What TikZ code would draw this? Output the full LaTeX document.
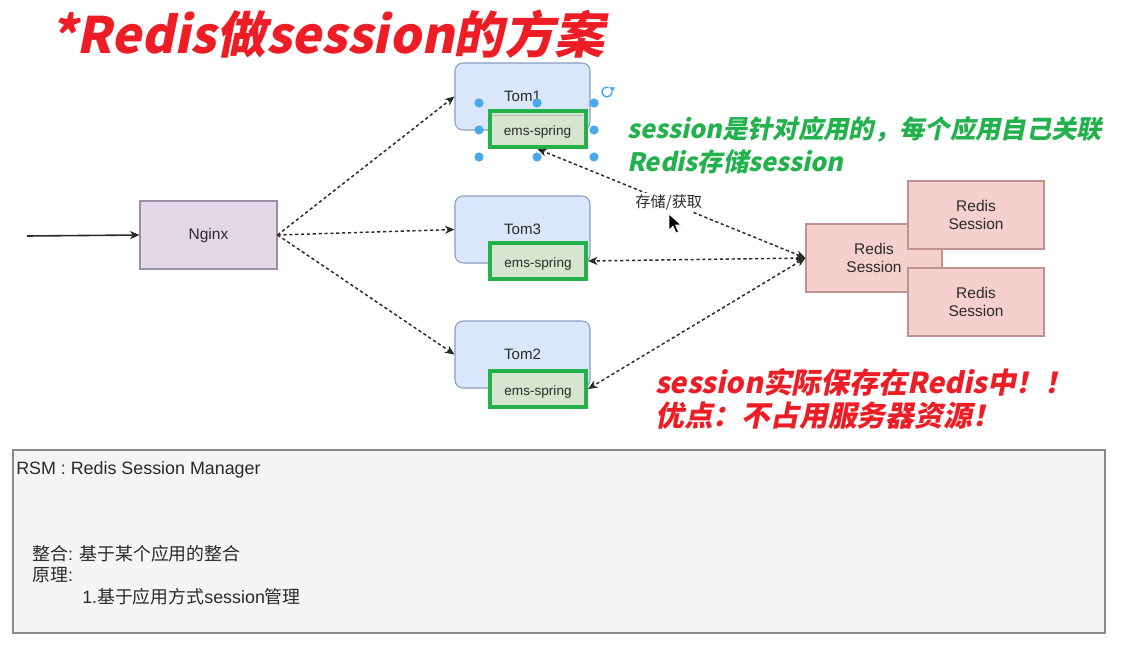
\documentclass[tikz,border=0pt]{standalone}
\usepackage{fontspec}
\setmainfont{Liberation Sans}
\newfontfamily\cjk{Noto Sans CJK SC}
\newfontfamily\cjkbi{Noto Sans CJK SC}[FakeSlant=0.2, BoldFeatures={FakeSlant=0.2}]
\usetikzlibrary{arrows.meta}
\definecolor{tomfill}{HTML}{DAE6FA}
\definecolor{tomline}{HTML}{8C9DC3}
\definecolor{emsfill}{HTML}{D5E5D0}
\definecolor{emsline}{HTML}{25B14A}
\definecolor{ngfill}{HTML}{E2D8E8}
\definecolor{ngline}{HTML}{9A8FA6}
\definecolor{rdfill}{HTML}{F6D0CF}
\definecolor{rdline}{HTML}{C09391}
\definecolor{greentxt}{HTML}{22B14C}
\definecolor{redtxt}{HTML}{EE1C24}
\definecolor{boxfill}{HTML}{F5F5F5}
\definecolor{boxline}{HTML}{8A8A8A}
\definecolor{handle}{HTML}{4AA8EC}
\definecolor{ink}{HTML}{2A2A2A}
\newcommand{\emstext}{\raisebox{-2.6pt}[7pt][2pt]{ems-spring}}
\tikzset{
  tom/.style={draw=tomline, fill=tomfill, line width=0.8pt, rounded corners=6pt,
    minimum width=101.25pt, minimum height=50.25pt, inner sep=0pt, text=ink,
    font=\fontsize{11.3}{13}\selectfont},
  ems/.style={draw=emsline, fill=emsfill, line width=3pt,
    minimum width=72pt, minimum height=27pt, inner sep=0pt, text=ink,
    font=\fontsize{10.2}{12}\selectfont},
  ngbox/.style={draw=ngline, fill=ngfill, line width=0.8pt,
    minimum width=102.75pt, minimum height=51pt, inner sep=0pt, text=ink,
    font=\fontsize{11.6}{13}\selectfont},
  rdbox/.style={draw=rdline, fill=rdfill, line width=0.8pt,
    minimum width=102pt, minimum height=51pt, inner sep=0pt, text=ink, align=center,
    font=\fontsize{11.6}{13.5}\selectfont},
  dotarrow/.style={draw=ink, line width=1.1pt, dash pattern=on 2.4pt off 2pt,
    -{Stealth[length=7pt,width=6pt,inset=2pt]}},
  dotboth/.style={draw=ink, line width=1.1pt, dash pattern=on 2.4pt off 2pt,
    {Stealth[length=7pt,width=6pt,inset=2pt]}-{Stealth[length=7pt,width=6pt,inset=2pt]}},
  solidarrow/.style={draw=ink, line width=1.2pt,
    -{Stealth[length=7pt,width=6pt,inset=2pt]}},
  greenline/.style={anchor=base west, text=greentxt, inner sep=0pt,
    font=\fontsize{19}{22}\selectfont\cjkbi\bfseries},
  redline/.style={anchor=base west, text=redtxt, inner sep=0pt,
    font=\fontsize{21.6}{25}\selectfont\cjkbi\bfseries},
  boxtxt/.style={anchor=base west, text=ink, inner sep=0pt,
    font=\fontsize{13.4}{15}\selectfont},
  hdl/.style={fill=handle},
}
\begin{document}
\begin{tikzpicture}[x=0.75pt,y=-0.75pt]
\useasboundingbox[fill=white] (0,0) rectangle (1131,660);

% title
\node[anchor=base west, text=redtxt, inner sep=0pt,
  font=\fontsize{37.6}{42}\selectfont\cjkbi\bfseries] (title) at (50,54) {*Redis做session的方案};

% tomcat boxes
\node[tom] (tom1) at (522.5,96.5) {Tom1};
\node[tom] (tom3) at (522.5,229.5) {Tom3};
\node[tom] (tom2) at (522.5,354.5) {Tom2};

\node[ems] (ems1) at (537.5,129) {\emstext};
\draw[gray!55, line width=0.8pt] (492,115.5) -- (583,115.5);
\node[ems] (ems3) at (538,261) {\emstext};
\node[ems] (ems2) at (538,389) {\emstext};

% nginx
\coordinate (in) at (27,236);
\node[ngbox] (nginx) at (208.5,235) {Nginx};

% redis
\node[rdbox] (redis) at (874,258) {Redis\\Session};
\node[rdbox] (redisA) at (976,215) {Redis\\Session};
\node[rdbox] (redisB) at (976,302) {Redis\\Session};

% connectors
\draw[solidarrow] (in) -- (nginx.west);
\draw[dotarrow] (nginx.east) -- (tom1.west);
\draw[dotarrow] (nginx.east) -- (tom3.west);
\draw[dotarrow] (nginx.east) -- (tom2.west);
\draw[dotboth] (redis.west) -- (ems1.south)
  node[pos=0.51, fill=white, inner sep=1.5pt, text=ink,
       font=\fontsize{11.4}{13}\selectfont\cjk] (lbl) {存储/获取};
\draw[dotboth] (redis.west) -- (ems3.east);
\draw[dotboth] (redis.west) -- (ems2.east);

% selection handles
\foreach \p in {(479,103),(537,103),(594,103),(479,130),(594,130),(479,157),(537,157),(594,157)}
  \fill[hdl] \p circle[radius=4.6];
\draw[handle, line width=1.1pt] (612,92) arc[start angle=0, end angle=290, radius=5];
\fill[handle] (612,92) -- (609.5,87) -- (615,87.5) -- cycle;

% cursor
\filldraw[fill=black, draw=white, line width=0.5pt]
  (669,214) -- (669,230) -- (673,226) -- (676,233) -- (678.5,232) -- (675.5,225) -- (681,225) -- cycle;

% annotations
\node[greenline] (g1) at (627,138) {session是针对应用的，每个应用自己关联};
\node[greenline] (g2) at (627,171) {Redis存储session};
\node[redline] (r1) at (655,393) {session实际保存在Redis中！！};
\node[redline] (r2) at (655,426) {优点：不占用服务器资源！};

% bottom box
\node[draw=boxline, fill=boxfill, line width=1pt, minimum width=819pt,
  minimum height=137.25pt, inner sep=0pt] (rsm) at (559,541.5) {};
\node[boxtxt] (t1) at (16,474) {RSM : Redis Session Manager};
\node[boxtxt] (t2) at (32,560) {{\cjk 整合}: {\cjk 基于某个应用的整合}};
\node[boxtxt] (t3) at (32,581) {{\cjk 原理}:};
\node[boxtxt] (t4) at (82,603) {1.{\cjk 基于应用方式}session{\cjk 管理}};
\end{tikzpicture}
\end{document}
